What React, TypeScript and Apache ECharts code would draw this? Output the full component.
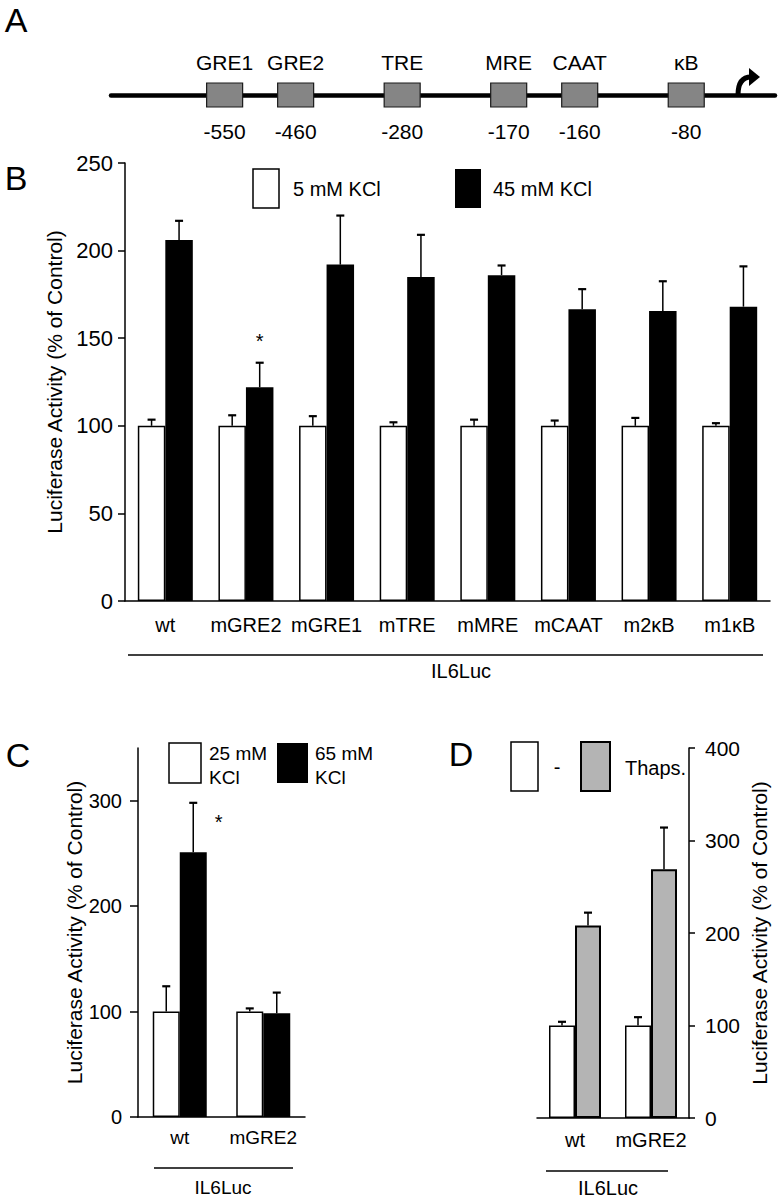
import React, { useEffect, useRef } from 'react';
import * as echarts from 'echarts';

const FONT = '"Liberation Sans", Arial, Helvetica, sans-serif';

// ---- Panel A: promoter schematic ----
const elementNames = ['GRE1', 'GRE2', 'TRE', 'MRE', 'CAAT', 'κB'];
const elementPositions = ['-550', '-460', '-280', '-170', '-160', '-80'];
const elementSlots = [0, 2, 5, 8, 10, 13];

// ---- Panel B ----
const legendB = ['5 mM KCl', '45 mM KCl'];
const categoriesB = ['wt', 'mGRE2', 'mGRE1', 'mTRE', 'mMRE', 'mCAAT', 'm2κB', 'm1κB'];
const lowKB = [100, 100, 100, 100, 100, 100, 100, 100];
const lowKErrB = [3.5, 6, 5.5, 2, 3.5, 3, 4.5, 1.5];
const highKB = [206, 122, 192, 185, 186, 166.5, 165.5, 168];
const highKErrB = [11, 14, 28, 24, 5.5, 11.5, 17, 23];
const starB: [string, number] = ['mGRE2', 151];

// ---- Panel C ----
const legendC = ['25 mM\nKCl', '65 mM\nKCl'];
const categoriesC = ['wt', 'mGRE2'];
const lowKC = [100, 100];
const lowKErrC = [24, 3];
const highKC = [251, 98.5];
const highKErrC = [47, 19.5];
const starC: [string, number] = ['wt', 284];
const ticksC = [0, 100, 200, 300];

// ---- Panel D ----
const legendD = ['-', 'Thaps.'];
const categoriesD = ['wt', 'mGRE2'];
const controlD = [100, 100];
const controlErrD = [4, 9];
const thapsD = [208, 269];
const thapsErrD = [14, 45];

const groupLabel = 'IL6Luc';
const yTitle = 'Luciferase Activity (% of Control)';

const GREY = '#b4b4b4';

function errorBars(idx: number, values: number[], errs: number[], offset: number) {
  return {
    type: 'custom',
    xAxisIndex: idx,
    yAxisIndex: idx,
    z: 5,
    silent: true,
    encode: { x: 0, y: 2 },
    data: values.map((v, i) => [i, v, v + errs[i]]),
    renderItem: (_p: any, api: any) => {
      const b = api.coord([api.value(0), api.value(1)]);
      const t = api.coord([api.value(0), api.value(2)]);
      const x = b[0] + offset;
      return {
        type: 'group',
        children: [
          { type: 'line', shape: { x1: x, y1: b[1], x2: x, y2: t[1] }, style: { stroke: '#000', lineWidth: 1.5 } },
          { type: 'line', shape: { x1: x - 4, y1: t[1], x2: x + 4, y2: t[1] }, style: { stroke: '#000', lineWidth: 2.2 } },
        ],
      };
    },
  };
}

function star(idx: number, cats: string[], s: [string, number], dx: number) {
  return {
    type: 'custom',
    xAxisIndex: idx,
    yAxisIndex: idx,
    z: 6,
    silent: true,
    data: [[cats.indexOf(s[0]), s[1]]],
    renderItem: (_p: any, api: any) => {
      const c = api.coord([api.value(0), api.value(1)]);
      return {
        type: 'text',
        style: { text: '*', x: c[0] + dx, y: c[1] + 4.5, align: 'center', verticalAlign: 'middle', fontSize: 20, fontFamily: FONT, fill: '#000' },
      };
    },
  };
}

const catAxis = (gi: number, data: string[], fontSize: number, margin: number) => ({
  type: 'category',
  gridIndex: gi,
  data,
  axisLine: { show: true, onZero: false, lineStyle: { color: '#000', width: 1.5 } },
  axisTick: { show: false },
  axisLabel: { color: '#000', fontSize, margin, interval: 0, fontFamily: FONT },
  splitLine: { show: false },
});

const valAxisBase = {
  type: 'value',
  axisLine: { show: true, lineStyle: { color: '#000', width: 1.5 } },
  splitLine: { show: false },
  nameLocation: 'middle',
  nameRotate: 90,
  name: yTitle,
  nameTextStyle: { fontSize: 21, color: '#000', fontFamily: FONT },
};

const txt = (text: string, x: number, y: number, fontSize: number, extra: any = {}) => ({
  type: 'text',
  style: { text, x, y, fontSize, fontFamily: FONT, fill: '#000', align: 'center', verticalAlign: 'middle', ...extra },
});

const option: any = {
  animation: false,
  backgroundColor: '#fff',
  textStyle: { fontFamily: FONT },
  grid: [
    { left: 111, top: 83, width: 664, height: 24 },
    { left: 125, top: 163, width: 645, height: 438 },
    { left: 138, top: 748, width: 167, height: 369 },
    { left: 537, top: 748, width: 152, height: 370 },
  ],
  xAxis: [
    {
      type: 'value',
      gridIndex: 0,
      min: -3.2,
      max: 15.5,
      axisLine: { show: true, onZero: true, lineStyle: { color: '#000', width: 4.5 } },
      axisTick: { show: false },
      axisLabel: { show: false },
      splitLine: { show: false },
    },
    catAxis(1, categoriesB, 20, 14),
    catAxis(2, categoriesC, 19, 11),
    catAxis(3, categoriesD, 20, 12),
  ],
  yAxis: [
    { type: 'value', gridIndex: 0, min: -1, max: 1, show: false },
    {
      ...valAxisBase,
      gridIndex: 1,
      min: 0,
      max: 250,
      interval: 50,
      axisTick: { show: true, length: 7, lineStyle: { color: '#000', width: 1.5 } },
      axisLabel: { color: '#000', fontSize: 22, margin: 12, fontFamily: FONT },
      nameGap: 59,
    },
    {
      ...valAxisBase,
      gridIndex: 2,
      min: 0,
      max: 350,
      axisTick: { show: true, length: 8, customValues: ticksC, lineStyle: { color: '#000', width: 1.5 } },
      axisLabel: { color: '#000', fontSize: 20, margin: 16, customValues: ticksC, fontFamily: FONT },
      nameGap: 50,
    },
    {
      ...valAxisBase,
      gridIndex: 3,
      position: 'right',
      min: 0,
      max: 400,
      interval: 100,
      axisTick: { show: true, length: 6, lineStyle: { color: '#000', width: 1.5 } },
      axisLabel: { color: '#000', fontSize: 21, margin: 16, fontFamily: FONT },
      nameGap: 60,
    },
  ],
  series: [
    // Panel A schematic
    {
      type: 'custom',
      xAxisIndex: 0,
      yAxisIndex: 0,
      z: 5,
      silent: true,
      data: elementSlots.map((s, i) => [s, 0, i]),
      renderItem: (_p: any, api: any) => {
        const c = api.coord([api.value(0), 0]);
        const i = api.value(2);
        return {
          type: 'group',
          children: [
            { type: 'rect', shape: { x: c[0] - 18, y: c[1] - 12, width: 36, height: 24 }, style: { fill: '#858585', stroke: '#1a1a1a', lineWidth: 1.2 } },
            txt(elementNames[i], c[0], c[1] - 32.5, 21),
            txt(elementPositions[i], c[0], c[1] + 36.5, 21),
          ],
        };
      },
    },
    // Panel B
    {
      name: legendB[0], type: 'bar', xAxisIndex: 1, yAxisIndex: 1, data: lowKB, barWidth: 27.5, barGap: '0%',
      itemStyle: { color: '#fff', borderColor: '#000', borderWidth: 1.5 },
    },
    {
      name: legendB[1], type: 'bar', xAxisIndex: 1, yAxisIndex: 1, data: highKB, barWidth: 27.5, barGap: '0%',
      itemStyle: { color: '#000' },
    },
    errorBars(1, lowKB, lowKErrB, -13.75),
    errorBars(1, highKB, highKErrB, 13.75),
    star(1, categoriesB, starB, 13.75),
    // Panel C
    {
      name: legendC[0], type: 'bar', xAxisIndex: 2, yAxisIndex: 2, data: lowKC, barWidth: 27, barGap: '0%',
      itemStyle: { color: '#fff', borderColor: '#000', borderWidth: 1.5 },
    },
    {
      name: legendC[1], type: 'bar', xAxisIndex: 2, yAxisIndex: 2, data: highKC, barWidth: 27, barGap: '0%',
      itemStyle: { color: '#000' },
    },
    errorBars(2, lowKC, lowKErrC, -13.5),
    errorBars(2, highKC, highKErrC, 13.5),
    star(2, categoriesC, starC, 39),
    // Panel D
    {
      name: legendD[0], type: 'bar', xAxisIndex: 3, yAxisIndex: 3, data: controlD, barWidth: 26, barGap: '0%',
      itemStyle: { color: '#fff', borderColor: '#000', borderWidth: 1.5 },
    },
    {
      name: legendD[1], type: 'bar', xAxisIndex: 3, yAxisIndex: 3, data: thapsD, barWidth: 26, barGap: '0%',
      itemStyle: { color: GREY, borderColor: '#000', borderWidth: 2 },
    },
    errorBars(3, controlD, controlErrD, -13),
    errorBars(3, thapsD, thapsErrD, 13),
  ],
  graphic: [
    // panel letters
    txt('A', 16, 20, 34),
    txt('B', 16, 178, 34),
    txt('C', 18, 755, 34),
    txt('D', 461, 754, 34),
    // transcription start arrow
    { type: 'bezierCurve', shape: { x1: 738, y1: 95, cpx1: 738, cpy1: 77, x2: 751, y2: 77 }, style: { stroke: '#000', lineWidth: 5, fill: 'none' } },
    { type: 'polygon', shape: { points: [[749, 68], [760, 77], [749, 86]] }, style: { fill: '#000' } },
    // legend B
    { type: 'rect', shape: { x: 253, y: 169, width: 26, height: 39 }, style: { fill: '#fff', stroke: '#000', lineWidth: 1.5 } },
    txt(legendB[0], 293, 189, 20, { align: 'left' }),
    { type: 'rect', shape: { x: 455, y: 169, width: 26, height: 39 }, style: { fill: '#000' } },
    txt(legendB[1], 493, 189, 20, { align: 'left' }),
    // legend C
    { type: 'rect', shape: { x: 169, y: 743, width: 32, height: 40 }, style: { fill: '#fff', stroke: '#000', lineWidth: 1.5 } },
    txt(legendC[0], 209, 765, 19, { align: 'left', lineHeight: 24 }),
    { type: 'rect', shape: { x: 277, y: 743, width: 31, height: 40 }, style: { fill: '#000' } },
    txt(legendC[1], 315, 765, 19, { align: 'left', lineHeight: 24 }),
    // legend D
    { type: 'rect', shape: { x: 511, y: 742, width: 27, height: 49 }, style: { fill: '#fff', stroke: '#000', lineWidth: 1.5 } },
    txt(legendD[0], 557, 767, 20),
    { type: 'rect', shape: { x: 581, y: 742, width: 29, height: 49 }, style: { fill: GREY, stroke: '#000', lineWidth: 2 } },
    txt(legendD[1], 625, 768, 20, { align: 'left' }),
    // group brackets
    { type: 'line', shape: { x1: 128, y1: 655, x2: 763, y2: 655 }, style: { stroke: '#000', lineWidth: 1.5 } },
    txt(groupLabel, 461, 671, 20),
    { type: 'line', shape: { x1: 154, y1: 1168, x2: 293, y2: 1168 }, style: { stroke: '#000', lineWidth: 1.5 } },
    txt(groupLabel, 223, 1187, 19),
    { type: 'line', shape: { x1: 546, y1: 1171, x2: 668, y2: 1171 }, style: { stroke: '#000', lineWidth: 1.5 } },
    txt(groupLabel, 608, 1188, 20),
  ],
};

export default function App() {
  const ref = useRef<HTMLDivElement>(null);
  useEffect(() => {
    const chart = echarts.init(ref.current!, null, { renderer: 'svg' });
    chart.setOption(option);
    return () => chart.dispose();
  }, []);
  return (
    <div
      ref={ref}
      style={{ position: 'absolute', left: 0, top: 0, width: 778, height: 1200, background: '#fff' }}
    />
  );
}
